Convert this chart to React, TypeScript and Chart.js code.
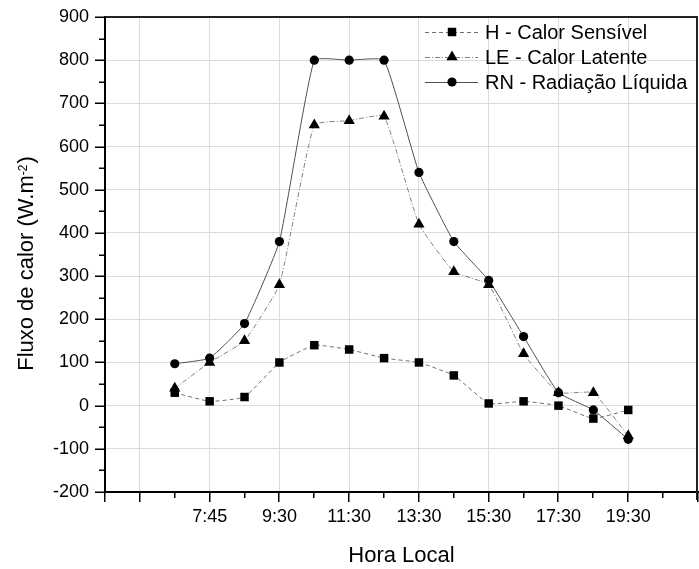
import React, { useEffect, useRef } from 'react';
import { Chart, registerables } from 'chart.js';

Chart.register(...registerables);

// ---- data ----
const timeLabels = ['7:00', '7:45', '8:30', '9:30', '10:30', '11:30', '12:30', '13:30', '14:30', '15:30', '16:30', '17:30', '18:30', '19:30'];
const firstPosition = 2; // axis slot of first time
const axisMin = 0;
const axisMax = 17;
const hValues = [30, 10, 20, 100, 140, 130, 110, 100, 70, 5, 10, 0, -30, -10];
const leValues = [40, 100, 150, 280, 650, 660, 670, 420, 310, 280, 120, 30, 30, -70];
const rnValues = [97, 110, 190, 380, 800, 800, 800, 540, 380, 290, 160, 30, -10, -78];
const seriesNames = ['H - Calor Sensível', 'LE - Calor Latente', 'RN - Radiação Líquida'];
const yMin = -200;
const yMax = 900;
const yStep = 100;
const xTitle = 'Hora Local';
const yTitleMain = 'Fluxo de calor (W.m';
const yTitleSup = '-2';
const yTitleEnd = ')';

const FONT = '"Liberation Sans", Arial, sans-serif';
const PLOT_RIGHT = 698;

const seriesStyles = [
  { color: '#707070', dash: [4, 3], point: 'rect', radius: 6 },
  { color: '#808080', dash: [5, 2, 1, 2], point: 'triangle', radius: 6.5 },
  { color: '#505050', dash: [] as number[], point: 'circle', radius: 4.6 },
];

function drawMarker(ctx: CanvasRenderingContext2D, style: string, x: number, y: number, r: number) {
  ctx.beginPath();
  if (style === 'rect') {
    const s = Math.SQRT1_2 * r;
    ctx.rect(x - s, y - s, 2 * s, 2 * s);
  } else if (style === 'triangle') {
    let a = 0;
    ctx.moveTo(x + Math.sin(a) * r, y - Math.cos(a) * r);
    a += (2 * Math.PI) / 3;
    ctx.lineTo(x + Math.sin(a) * r, y - Math.cos(a) * r);
    a += (2 * Math.PI) / 3;
    ctx.lineTo(x + Math.sin(a) * r, y - Math.cos(a) * r);
    ctx.closePath();
  } else {
    ctx.arc(x, y, r, 0, Math.PI * 2);
  }
  ctx.fillStyle = '#000';
  ctx.fill();
}

const decor = {
  id: 'decor',
  afterDraw(chart: any) {
    const ctx: CanvasRenderingContext2D = chart.ctx;
    const { left, right, top, bottom } = chart.chartArea;
    const xs = chart.scales.x;
    const ys = chart.scales.y;
    ctx.save();
    // top and right borders
    ctx.strokeStyle = '#222';
    ctx.lineWidth = 2;
    ctx.beginPath();
    ctx.moveTo(left, top);
    ctx.lineTo(right, top);
    ctx.moveTo(right - 1, top);
    ctx.lineTo(right - 1, bottom + 8);
    ctx.stroke();
    // y ticks (major + minor)
    ctx.strokeStyle = '#000';
    ctx.lineWidth = 1.5;
    ctx.beginPath();
    for (let v = yMin; v <= yMax; v += yStep / 2) {
      const py = Math.round(ys.getPixelForValue(v)) + 0.25;
      const len = v % yStep === 0 ? 9 : 5;
      ctx.moveTo(left - 1, py);
      ctx.lineTo(left - 1 - len, py);
    }
    // x ticks
    for (let i = axisMin; i <= axisMax; i++) {
      const px = Math.round(xs.getPixelForValue(i)) - 0.25;
      const len = i % 2 === 1 || i === axisMin ? 9 : 5;
      ctx.moveTo(px, bottom + 1);
      ctx.lineTo(px, bottom + 1 + len);
    }
    ctx.stroke();

    // legend
    const lx0 = 425;
    const lx1 = 478;
    const mx = 452;
    ctx.font = `20px ${FONT}`;
    ctx.textBaseline = 'middle';
    ctx.textAlign = 'left';
    seriesNames.forEach((name, i) => {
      const st = seriesStyles[i];
      const y = 32 + 25 * i;
      ctx.save();
      ctx.strokeStyle = st.color;
      ctx.lineWidth = 1;
      ctx.setLineDash(st.dash);
      ctx.beginPath();
      ctx.moveTo(lx0, y + 0.5);
      ctx.lineTo(lx1, y + 0.5);
      ctx.stroke();
      ctx.restore();
      drawMarker(ctx, st.point, mx, y, st.radius);
      ctx.fillStyle = '#000';
      ctx.fillText(name, 485, y + 1);
    });

    // x title
    ctx.font = `22px ${FONT}`;
    ctx.textAlign = 'center';
    ctx.textBaseline = 'alphabetic';
    ctx.fillStyle = '#000';
    ctx.fillText(xTitle, (left + right) / 2, 562);

    // y title with superscript
    ctx.save();
    ctx.translate(33, 263.5);
    ctx.rotate(-Math.PI / 2);
    ctx.textAlign = 'left';
    ctx.font = `22px ${FONT}`;
    const wMain = ctx.measureText(yTitleMain).width;
    const wEnd = ctx.measureText(yTitleEnd).width;
    ctx.font = `12px ${FONT}`;
    const wSup = ctx.measureText(yTitleSup).width;
    let x0 = -(wMain + wSup + wEnd + 1) / 2;
    ctx.font = `22px ${FONT}`;
    ctx.fillText(yTitleMain, x0, 0);
    x0 += wMain;
    ctx.font = `12px ${FONT}`;
    ctx.fillText(yTitleSup, x0, -6);
    x0 += wSup + 1;
    ctx.font = `22px ${FONT}`;
    ctx.fillText(yTitleEnd, x0, 0);
    ctx.restore();

    ctx.restore();
  },
};

export default function App() {
  const ref = useRef<HTMLCanvasElement>(null);
  useEffect(() => {
    const canvas = ref.current;
    if (!canvas) return;
    const series = [hValues, leValues, rnValues];
    const chart = new Chart(canvas, {
      type: 'line',
      data: {
        datasets: series.map((vals, k) => ({
          label: seriesNames[k],
          data: vals.map((v, i) => ({ x: i + firstPosition, y: v })),
          borderColor: seriesStyles[k].color,
          borderWidth: 1,
          borderDash: seriesStyles[k].dash,
          pointStyle: seriesStyles[k].point as any,
          pointRadius: seriesStyles[k].radius,
          pointBackgroundColor: '#000',
          pointBorderColor: '#000',
          pointBorderWidth: 0,
          tension: 0.12,
          fill: false,
        })),
      },
      options: {
        responsive: false,
        animation: false,
        devicePixelRatio: 1,
        layout: { padding: { left: 0, right: 1, top: 17, bottom: 0 } },
        plugins: {
          legend: { display: false },
          tooltip: { enabled: false },
        },
        scales: {
          x: {
            type: 'linear',
            min: axisMin,
            max: axisMax,
            afterFit: (s: any) => {
              s.height = 77;
              s.paddingLeft = 0;
              s.paddingRight = 0;
            },
            ticks: {
              stepSize: 1,
              autoSkip: false,
              maxRotation: 0,
              padding: 14,
              color: '#000',
              font: { family: FONT, size: 18 },
              callback: (v: any) => {
                const n = Number(v);
                const idx = n - firstPosition;
                if (n % 2 === 1 && idx >= 0 && idx < timeLabels.length) return timeLabels[idx];
                return '';
              },
            },
            grid: {
              drawTicks: false,
              lineWidth: 1,
              color: (c: any) => {
                const v = c.tick ? c.tick.value : 0;
                return v % 2 === 1 && v < axisMax ? '#dcdcdc' : 'rgba(0,0,0,0)';
              },
            },
            border: { display: true, color: '#000', width: 2 },
          },
          y: {
            type: 'linear',
            min: yMin,
            max: yMax,
            afterFit: (s: any) => {
              s.width = 105;
              s.paddingTop = 0;
              s.paddingBottom = 0;
            },
            ticks: {
              stepSize: yStep,
              padding: 16,
              color: '#000',
              font: { family: FONT, size: 18 },
            },
            grid: {
              drawTicks: false,
              lineWidth: 1,
              color: (c: any) => {
                const v = c.tick ? c.tick.value : 0;
                return v > yMin && v < yMax ? '#dcdcdc' : 'rgba(0,0,0,0)';
              },
            },
            border: { display: true, color: '#000', width: 2 },
          },
        },
      },
      plugins: [
        {
          id: 'forceArea',
          afterLayout(chart: any) {
            // stretch the x scale so the plot ends at the frame's right edge
            const area = chart.chartArea;
            const xs = chart.scales.x;
            const diff = PLOT_RIGHT - area.right;
            if (Math.abs(diff) > 0.01) {
              area.right = PLOT_RIGHT;
              area.width = area.right - area.left;
              xs.right = PLOT_RIGHT;
              xs.width = xs.right - xs.left;
              xs.configure();
            }
          },
        },
        decor,
      ],
    });
    return () => chart.destroy();
  }, []);
  return (
    <div style={{ position: 'absolute', left: 0, top: 0, width: 699, height: 569, background: '#fff' }}>
      <canvas ref={ref} width={699} height={569} style={{ display: 'block', width: 699, height: 569 }} />
    </div>
  );
}
